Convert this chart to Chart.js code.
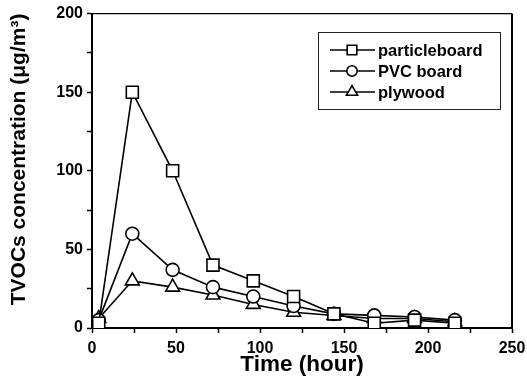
<!DOCTYPE html>
<html>
<head>
<meta charset="utf-8">
<script src="https://cdn.jsdelivr.net/npm/chart.js@4/dist/chart.umd.min.js"></script>
<style>
  html, body { margin: 0; padding: 0; background: #fff; }
  #wrap { width: 527px; height: 391px; position: relative; }
</style>
</head>
<body>
<div id="wrap"><canvas id="tvocChart"></canvas></div>
<script>
// Sampling times (hour)
const hours = [4, 24, 48, 72, 96, 120, 144, 168, 192, 216];

// TVOC concentrations (ug/m3)
const particleboard = [3, 150, 100, 40, 30, 20, 9, 3, 5, 3];
const pvcBoard = [5, 60, 37, 26, 20, 14, 9, 8, 7, 5];
const plywood = [6, 30, 26, 21, 15, 10, 8, 6, 6, 4];

const seriesNames = ['particleboard', 'PVC board', 'plywood'];
const seriesStyles = ['rect', 'circle', 'triangle'];
const seriesRadius = [8.5, 6.5, 8];

const xTicks = [0, 50, 100, 150, 200, 250];
const yTicks = [0, 50, 100, 150, 200];

const FONT = '"Liberation Sans", Arial, Helvetica, sans-serif';

function toPoints(values) {
    return hours.map((h, i) => ({ x: h, y: values[i] }));
}

function makeDataset(label, values, idx) {
    return {
        label: label,
        data: toPoints(values),
        borderColor: '#000',
        borderWidth: 1.6,
        backgroundColor: '#fff',
        pointStyle: seriesStyles[idx],
        pointRadius: seriesRadius[idx],
        pointBorderWidth: 1.6,
        pointBackgroundColor: '#fff',
        pointBorderColor: '#000',
        tension: 0,
        fill: false
    };
}

// Top and right frame lines
const framePlugin = {
    id: 'frame',
    afterDraw(chart) {
        const { ctx, chartArea: a } = chart;
        ctx.save();
        ctx.strokeStyle = '#000';
        ctx.lineWidth = 1.2;
        ctx.beginPath();
        ctx.moveTo(a.left, a.top);
        ctx.lineTo(a.right, a.top);
        ctx.stroke();
        ctx.lineWidth = 2;
        ctx.beginPath();
        ctx.moveTo(a.right, a.top);
        ctx.lineTo(a.right, a.bottom);
        ctx.stroke();
        ctx.restore();
    }
};

// Boxed legend with line sample and marker, drawn inside the plot
const boxLegend = {
    id: 'boxLegend',
    afterDraw(chart) {
        const { ctx } = chart;
        const box = { x: 318, y: 32, w: 182, h: 77 };
        ctx.save();
        ctx.strokeStyle = '#222';
        ctx.lineWidth = 1;
        ctx.strokeRect(box.x + 0.5, box.y + 0.5, box.w, box.h);
        ctx.font = 'bold 16.5px ' + FONT;
        ctx.fillStyle = '#000';
        ctx.textBaseline = 'middle';
        chart.data.datasets.forEach((ds, i) => {
            const y = box.y + 18 + i * 21;
            ctx.strokeStyle = '#000';
            ctx.lineWidth = 1.6;
            ctx.beginPath();
            ctx.moveTo(330, y);
            ctx.lineTo(375, y);
            ctx.stroke();
            ctx.fillStyle = '#fff';
            Chart.helpers.drawPoint(ctx, {
                pointStyle: ds.pointStyle,
                radius: ds.pointRadius * 0.8,
                borderWidth: 1.5
            }, 352, y);
            ctx.fillStyle = '#000';
            ctx.fillText(ds.label, 378, y + 1);
        });
        ctx.restore();
    }
};

const ctx = document.getElementById('tvocChart').getContext('2d');

new Chart(ctx, {
    type: 'line',
    data: {
        datasets: [
            makeDataset(seriesNames[0], particleboard, 0),
            makeDataset(seriesNames[1], pvcBoard, 1),
            makeDataset(seriesNames[2], plywood, 2)
        ]
    },
    options: {
        responsive: true,
        maintainAspectRatio: false,
        animation: false,
        layout: {
            padding: { left: 0, top: 13, right: 15, bottom: 0 }
        },
        plugins: {
            legend: { display: false },
            tooltip: { enabled: false }
        },
        scales: {
            x: {
                type: 'linear',
                min: xTicks[0],
                max: xTicks[xTicks.length - 1],
                afterFit(scale) {
                    scale.height = 63;
                    scale.paddingRight = 15;
                    scale.paddingLeft = 0;
                },
                border: { display: true, color: '#000', width: 2 },
                grid: {
                    drawOnChartArea: false,
                    tickLength: 5,
                    tickColor: '#000',
                    tickWidth: 1.5
                },
                ticks: {
                    stepSize: 25,
                    autoSkip: false,
                    maxRotation: 0,
                    padding: 6,
                    color: '#000',
                    font: { family: FONT, size: 16, weight: 'bold' },
                    callback: v => xTicks.includes(v) ? String(v) : ''
                },
                title: {
                    display: true,
                    text: 'Time (hour)',
                    color: '#000',
                    font: { family: FONT, size: 22.5, weight: 'bold' },
                    padding: { top: 0, bottom: 13 }
                }
            },
            y: {
                min: yTicks[0],
                max: yTicks[yTicks.length - 1],
                afterFit(scale) { scale.width = 92; },
                border: { display: true, color: '#000', width: 2 },
                grid: {
                    drawOnChartArea: false,
                    tickLength: 5,
                    tickColor: '#000',
                    tickWidth: 1.5
                },
                ticks: {
                    stepSize: 25,
                    autoSkip: false,
                    padding: 4,
                    color: '#000',
                    font: { family: FONT, size: 16, weight: 'bold' },
                    callback: v => yTicks.includes(v) ? String(v) : ''
                },
                title: {
                    display: true,
                    align: 'end',
                    text: 'TVOCs concentration (\u03bcg/m\u00b3)',
                    color: '#000',
                    font: { family: FONT, size: 21, weight: 'bold' },
                    padding: { top: 7, bottom: 0 }
                }
            }
        }
    },
    plugins: [framePlugin, boxLegend]
});
</script>
</body>
</html>
